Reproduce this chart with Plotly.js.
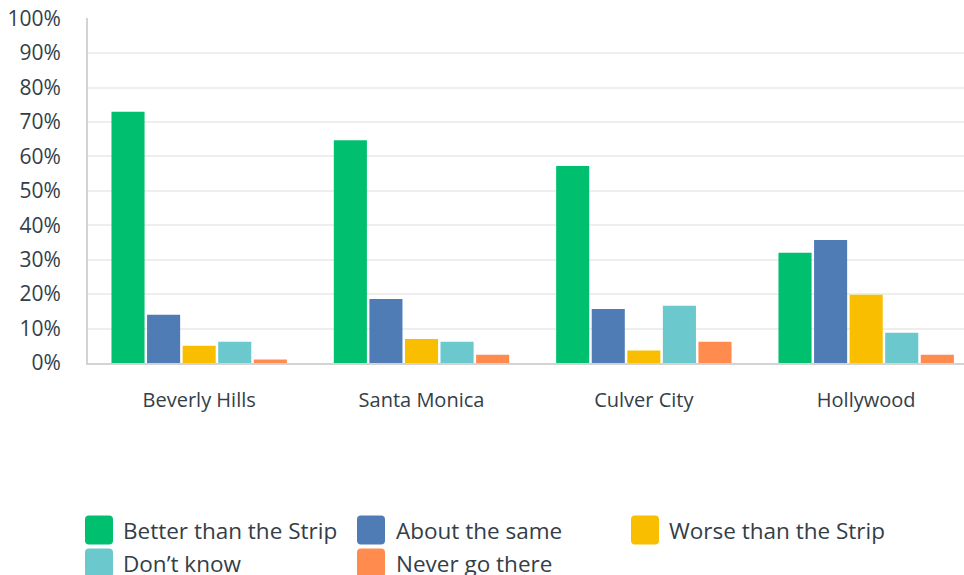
<!DOCTYPE html>
<html>
<head>
<meta charset="utf-8">
<script src="https://cdn.plot.ly/plotly-3.0.1.min.js"></script>
<style>
  html, body { margin: 0; padding: 0; background: #ffffff; }
  #chart { width: 964px; height: 575px; }
</style>
</head>
<body>
<div id="chart"></div>
<script>
// ---- data (percent) ----
const categories = ['Beverly Hills', 'Santa Monica', 'Culver City', 'Hollywood'];
const seriesNames = ['Better than the Strip', 'About the same', 'Worse than the Strip', 'Don\u2019t know', 'Never go there'];
const betterThanStrip = [73.0, 64.7, 57.2, 32.0];
const aboutTheSame = [14.0, 18.6, 15.7, 35.7];
const worseThanStrip = [5.0, 7.0, 3.6, 19.8];
const dontKnow = [6.2, 6.2, 16.6, 8.8];
const neverGoThere = [1.0, 2.4, 6.2, 2.4];
const yTickValues = [0, 10, 20, 30, 40, 50, 60, 70, 80, 90, 100];
const yTickLabels = ['0%', '10%', '20%', '30%', '40%', '50%', '60%', '70%', '80%', '90%', '100%'];

const seriesValues = [betterThanStrip, aboutTheSame, worseThanStrip, dontKnow, neverGoThere];
const colors = ['#00bf6f', '#507cb6', '#f9be00', '#6bc8cd', '#ff8b4f'];

const FONT = '"Open Sans", sans-serif';
const TEXT = '#333e48';

const W = 964, H = 575;
const M = {l: 88, r: 0, t: 18, b: 212};
const plotW = W - M.l - M.r, plotH = H - M.t - M.b;
const px2x = p => (p - M.l) / plotW;
const py2y = p => (H - M.b - p) / plotH;

const traces = seriesNames.map((name, i) => ({
  type: 'bar',
  name: name,
  x: categories,
  y: seriesValues[i],
  marker: {color: colors[i], line: {width: 0}},
  hoverinfo: 'x+y+name',
  showlegend: false
}));

// custom legend (rounded swatches + text)
const legendPos = [
  {sx: 85, tx: 121, cy: 530},
  {sx: 357, tx: 394, cy: 530},
  {sx: 631, tx: 667, cy: 530},
  {sx: 85, tx: 121, cy: 563},
  {sx: 357, tx: 394, cy: 563}
];
const shapes = [];
const annotations = [];
function roundedRect(x0, y0, x1, y1, r) {
  const X = px2x, Y = py2y;
  return 'M' + X(x0 + r) + ',' + Y(y0) +
    ' L' + X(x1 - r) + ',' + Y(y0) +
    ' Q' + X(x1) + ',' + Y(y0) + ' ' + X(x1) + ',' + Y(y0 + r) +
    ' L' + X(x1) + ',' + Y(y1 - r) +
    ' Q' + X(x1) + ',' + Y(y1) + ' ' + X(x1 - r) + ',' + Y(y1) +
    ' L' + X(x0 + r) + ',' + Y(y1) +
    ' Q' + X(x0) + ',' + Y(y1) + ' ' + X(x0) + ',' + Y(y1 - r) +
    ' L' + X(x0) + ',' + Y(y0 + r) +
    ' Q' + X(x0) + ',' + Y(y0) + ' ' + X(x0 + r) + ',' + Y(y0) + ' Z';
}
seriesNames.forEach((name, i) => {
  const p = legendPos[i];
  shapes.push({
    type: 'path', xref: 'paper', yref: 'paper',
    path: roundedRect(p.sx, p.cy - 14.5, p.sx + 28, p.cy + 14.5, 4),
    fillcolor: colors[i], line: {width: 0}
  });
  annotations.push({
    xref: 'paper', yref: 'paper', x: px2x(p.tx), y: py2y(p.cy),
    xanchor: 'left', yanchor: 'middle', showarrow: false,
    text: name, font: {family: FONT, size: 22.5, color: TEXT}
  });
});

const layout = {
  width: W, height: H,
  margin: M,
  paper_bgcolor: '#ffffff', plot_bgcolor: '#ffffff',
  barmode: 'group',
  bargap: 0.2,
  bargroupgap: 0.07,
  showlegend: false,
  font: {family: FONT, size: 20, color: TEXT},
  xaxis: {
    type: 'category',
    range: [-0.5, 3.44],
    showline: true, linecolor: '#d3d3d3', linewidth: 2,
    showgrid: false, zeroline: false,
    ticks: '', ticklabelstandoff: 18,
    tickfont: {family: FONT, size: 20, color: TEXT},
    fixedrange: true
  },
  yaxis: {
    range: [0, 100.2],
    tickmode: 'array',
    tickvals: yTickValues,
    ticktext: yTickLabels,
    showline: true, linecolor: '#d3d3d3', linewidth: 2,
    showgrid: true, gridcolor: '#eeeeee', gridwidth: 2,
    zeroline: false,
    ticks: '', ticklabelstandoff: 21,
    tickfont: {family: FONT, size: 21, color: TEXT},
    fixedrange: true
  },
  shapes: shapes,
  annotations: annotations
};

Plotly.newPlot('chart', traces, layout, {displayModeBar: false, staticPlot: true});
</script>
</body>
</html>
